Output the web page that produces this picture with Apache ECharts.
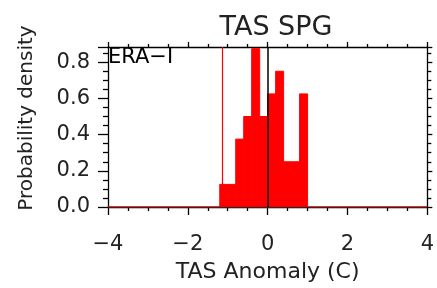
<!DOCTYPE html>
<html>
<head>
<meta charset="UTF-8">
<script src="https://cdn.jsdelivr.net/npm/echarts@6/dist/echarts.min.js"></script>
<style>
  html, body { margin: 0; padding: 0; background: #fff; }
  #chart { width: 437px; height: 288px; }
</style>
</head>
<body>
<div id="chart"></div>
<script>
// histogram bins (width 0.2)
var binStarts = [-1.2, -1.0, -0.8, -0.6, -0.4, -0.2, 0.0, 0.2, 0.4, 0.6, 0.8];
var binWidth = 0.2;
var densities = [0.125, 0.125, 0.375, 0.5, 0.875, 0.5, 0.625, 0.75, 0.25, 0.25, 0.625];
var redLineX = -1.15;

var chart = echarts.init(document.getElementById('chart'));
var font = 'DejaVu Sans, sans-serif';
var txt = '#222';

var bars = binStarts.map(function (s, i) { return [s, s + binWidth, densities[i]]; });

function tickAxis(major, minor, extra) {
  return Object.assign({
    axisLine: { show: true, onZero: false, lineStyle: { color: '#000', width: 1.3 } },
    axisTick: { show: true, inside: false, length: major, lineStyle: { color: '#000', width: 1.3 } },
    minorTick: { show: true, splitNumber: 4, length: minor, lineStyle: { color: '#000', width: 1.3 } },
    splitLine: { show: false }
  }, extra);
}

chart.setOption({
  animation: false,
  title: {
    text: 'TAS SPG', left: 271, top: 9, textAlign: 'center',
    textStyle: { fontFamily: font, fontSize: 27, fontWeight: 'normal', color: txt }
  },
  grid: { left: 108, right: 5, top: 47, bottom: 73 },
  xAxis: [
    tickAxis(8, 4, {
      type: 'value', min: -4, max: 4, interval: 2, position: 'bottom',
      name: 'TAS Anomaly (C)', nameLocation: 'middle', nameGap: 54,
      nameTextStyle: { fontFamily: font, fontSize: 22, color: txt },
      axisLabel: {
        margin: 27, fontFamily: font, fontSize: 21, color: txt,
        formatter: function (v) { return String(v).replace('-', '\u2212'); }
      }
    }),
    tickAxis(5, 3, {
      type: 'value', min: -4, max: 4, interval: 2, position: 'top',
      axisLabel: { show: false }
    })
  ],
  yAxis: [
    tickAxis(10, 5, {
      type: 'value', min: 0, max: 0.884, interval: 0.2, position: 'left',
      axisLabel: {
        margin: 18, fontFamily: font, fontSize: 21, color: txt, showMaxLabel: false,
        formatter: function (v) { return v.toFixed(1); }
      }
    }),
    tickAxis(5, 4, {
      type: 'value', min: 0, max: 0.884, interval: 0.2, position: 'right',
      axisLabel: { show: false }
    })
  ],
  series: [
    {
      type: 'custom',
      clip: true,
      data: bars,
      renderItem: function (params, api) {
        var p0 = api.coord([api.value(0), api.value(2)]);
        var p1 = api.coord([api.value(1), 0]);
        var cs = params.coordSys;
        return {
          type: 'rect',
          shape: echarts.graphic.clipRectByRect(
            { x: p0[0], y: p0[1], width: p1[0] - p0[0], height: p1[1] - p0[1] },
            { x: cs.x, y: cs.y, width: cs.width, height: cs.height }
          ),
          style: { fill: '#ff0000', stroke: '#ff0000', lineWidth: 1 }
        };
      },
      z: 2
    },
    {
      type: 'line',
      data: [[-4, 0], [4, 0]],
      symbol: 'none',
      lineStyle: { color: '#b01818', width: 1.5 },
      markLine: {
        silent: true, symbol: 'none', label: { show: false },
        data: [
          { xAxis: redLineX, lineStyle: { color: '#ff0000', width: 1.2, type: 'solid' } },
          { xAxis: 0, lineStyle: { color: '#000', width: 1.5, type: 'solid' } }
        ]
      },
      z: 3
    }
  ],
  graphic: [
    {
      type: 'text', left: 108, top: 47, z: 10,
      style: { text: 'ERA\u2212I', fontFamily: font, fontSize: 21, fill: '#000' }
    },
    {
      type: 'text', x: 27, y: 118, rotation: Math.PI / 2,
      style: {
        text: 'Probability density', fontFamily: font, fontSize: 20, fill: txt,
        align: 'center', verticalAlign: 'middle'
      }
    }
  ]
});
</script>
</body>
</html>
